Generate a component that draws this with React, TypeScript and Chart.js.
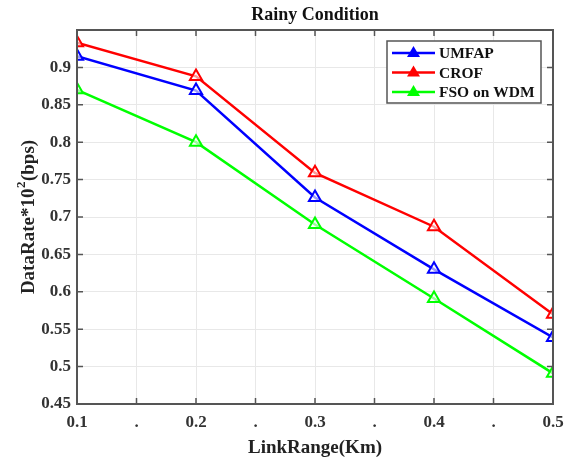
import React, { useEffect, useRef } from "react";
import { Chart, registerables } from "chart.js";

Chart.register(...registerables);

const linkRange = [0.1, 0.2, 0.3, 0.4, 0.5];
const umfap = [0.915, 0.869, 0.726, 0.63, 0.539];
const crof = [0.933, 0.888, 0.759, 0.687, 0.57];
const fsoWdm = [0.87, 0.8, 0.69, 0.591, 0.491];
const seriesNames = ["UMFAP", "CROF", "FSO on WDM"];
const seriesColors = ["#0000ff", "#ff0000", "#00ff00"];
const titleText = "Rainy Condition";
const xTitle = "LinkRange(Km)";
const yTitleParts = ["DataRate*10", "2", "(bps)"];

const FONT = '"Liberation Serif", "Times New Roman", serif';

const framePlugin = {
  id: "frame",
  afterDraw(chart: any) {
    const { ctx, chartArea: a, scales } = chart;
    ctx.save();
    ctx.strokeStyle = "#555555";
    ctx.lineWidth = 1.5;
    const tl = 6;
    ctx.beginPath();
    scales.x.ticks.forEach((_t: any, i: number) => {
      const px = scales.x.getPixelForTick(i);
      ctx.moveTo(px, a.bottom);
      ctx.lineTo(px, a.bottom - tl);
      ctx.moveTo(px, a.top);
      ctx.lineTo(px, a.top + tl);
    });
    scales.y.ticks.forEach((_t: any, i: number) => {
      const py = scales.y.getPixelForTick(i);
      ctx.moveTo(a.left, py);
      ctx.lineTo(a.left + tl, py);
      ctx.moveTo(a.right, py);
      ctx.lineTo(a.right - tl, py);
    });
    ctx.stroke();
    ctx.lineWidth = 2;
    ctx.strokeRect(a.left, a.top, a.right - a.left, a.bottom - a.top);

    // title
    ctx.fillStyle = "#111";
    ctx.font = `bold 18px ${FONT}`;
    ctx.textAlign = "center";
    ctx.textBaseline = "middle";
    ctx.fillText(titleText, (a.left + a.right) / 2, 15);

    // y title with superscript
    ctx.save();
    const cy = (a.top + a.bottom) / 2;
    ctx.translate(27, cy);
    ctx.rotate(-Math.PI / 2);
    ctx.textAlign = "left";
    ctx.textBaseline = "alphabetic";
    const bigF = `bold 19px ${FONT}`;
    const supF = `bold 13px ${FONT}`;
    ctx.font = bigF;
    const w0 = ctx.measureText(yTitleParts[0]).width;
    const w2 = ctx.measureText(yTitleParts[2]).width;
    ctx.font = supF;
    const w1 = ctx.measureText(yTitleParts[1]).width;
    const total = w0 + w1 + w2 + 1;
    let x = -total / 2;
    ctx.fillStyle = "#222";
    ctx.font = bigF;
    ctx.fillText(yTitleParts[0], x, 7);
    x += w0;
    ctx.font = supF;
    ctx.fillText(yTitleParts[1], x + 0.5, -2);
    x += w1 + 1;
    ctx.font = bigF;
    ctx.fillText(yTitleParts[2], x, 7);
    ctx.restore();

    // legend
    const bx = 387, by = 41, bw = 154, bh = 62;
    ctx.fillStyle = "#fff";
    ctx.fillRect(bx, by, bw, bh);
    ctx.strokeStyle = "#555555";
    ctx.lineWidth = 1.5;
    ctx.strokeRect(bx, by, bw, bh);
    ctx.font = `bold 15.5px ${FONT}`;
    ctx.textAlign = "left";
    ctx.textBaseline = "middle";
    chart.data.datasets.forEach((ds: any, i: number) => {
      const y = by + 12 + i * 19.5;
      ctx.strokeStyle = ds.borderColor;
      ctx.lineWidth = 2.5;
      ctx.beginPath();
      ctx.moveTo(bx + 5, y);
      ctx.lineTo(bx + 48, y);
      ctx.stroke();
      ctx.fillStyle = ds.borderColor;
      ctx.beginPath();
      ctx.moveTo(bx + 26.5, y - 7);
      ctx.lineTo(bx + 33, y + 4);
      ctx.lineTo(bx + 20, y + 4);
      ctx.closePath();
      ctx.fill();
      ctx.fillStyle = "#111";
      ctx.fillText(ds.label, bx + 52, y + 1);
    });
    ctx.restore();
  },
};

export default function App() {
  const ref = useRef<HTMLCanvasElement | null>(null);
  useEffect(() => {
    document.body.style.margin = "0";
    const mk = (vals: number[]) => vals.map((v, i) => ({ x: linkRange[i], y: v }));
    const all = [umfap, crof, fsoWdm];
    const chart = new Chart(ref.current as HTMLCanvasElement, {
      type: "line",
      data: {
        datasets: all.map((vals, i) => ({
          label: seriesNames[i],
          data: mk(vals),
          borderColor: seriesColors[i],
          backgroundColor: "rgba(255,255,255,0.6)",
          borderWidth: 2.5,
          pointStyle: "triangle",
          pointRadius: 7,
          pointBorderWidth: 2,
          tension: 0,
        })),
      },
      options: {
        animation: false,
        responsive: false,
        layout: { padding: { top: 30, right: 15, left: 0, bottom: 0 } },
        plugins: { legend: { display: false }, title: { display: false }, tooltip: { enabled: false } },
        scales: {
          x: {
            type: "linear",
            min: 0.1,
            max: 0.5,
            afterBuildTicks: (s: any) => {
              s.ticks = [0.1, 0.15, 0.2, 0.25, 0.3, 0.35, 0.4, 0.45, 0.5].map((v) => ({ value: v }));
            },
            afterFit: (s: any) => {
              s.height = 55;
              s.paddingRight = 0;
              s.paddingLeft = 0;
            },
            grid: { color: "#e8e8e8", lineWidth: 1, drawTicks: false },
            border: { display: false },
            ticks: {
              padding: 8,
              color: "#333",
              font: { family: FONT, size: 17, weight: "bold" },
              maxRotation: 0,
              autoSkip: false,
              callback: (v: any, i: number) => (i % 2 === 1 ? "." : String(Number(Number(v).toFixed(2)))),
            },
            title: {
              display: true,
              text: xTitle,
              color: "#222",
              font: { family: FONT, size: 19, weight: "bold" },
              padding: { top: 0, bottom: 0 },
            },
          },
          y: {
            min: 0.45,
            max: 0.95,
            afterBuildTicks: (s: any) => {
              s.ticks = [0.45, 0.5, 0.55, 0.6, 0.65, 0.7, 0.75, 0.8, 0.85, 0.9, 0.95].map((v) => ({ value: v }));
            },
            afterFit: (s: any) => {
              s.width = 77;
            },
            grid: { color: "#e8e8e8", lineWidth: 1, drawTicks: false },
            border: { display: false },
            ticks: {
              padding: 6,
              color: "#333",
              font: { family: FONT, size: 17, weight: "bold" },
              autoSkip: false,
              callback: (v: any) => (Number(v) > 0.94 ? "" : String(Number(Number(v).toFixed(2)))),
            },
          },
        },
      },
      plugins: [framePlugin],
    } as any);
    return () => chart.destroy();
  }, []);
  return (
    <div style={{ width: 568, height: 459 }}>
      <canvas ref={ref} width={568} height={459} style={{ display: "block" }} />
    </div>
  );
}
